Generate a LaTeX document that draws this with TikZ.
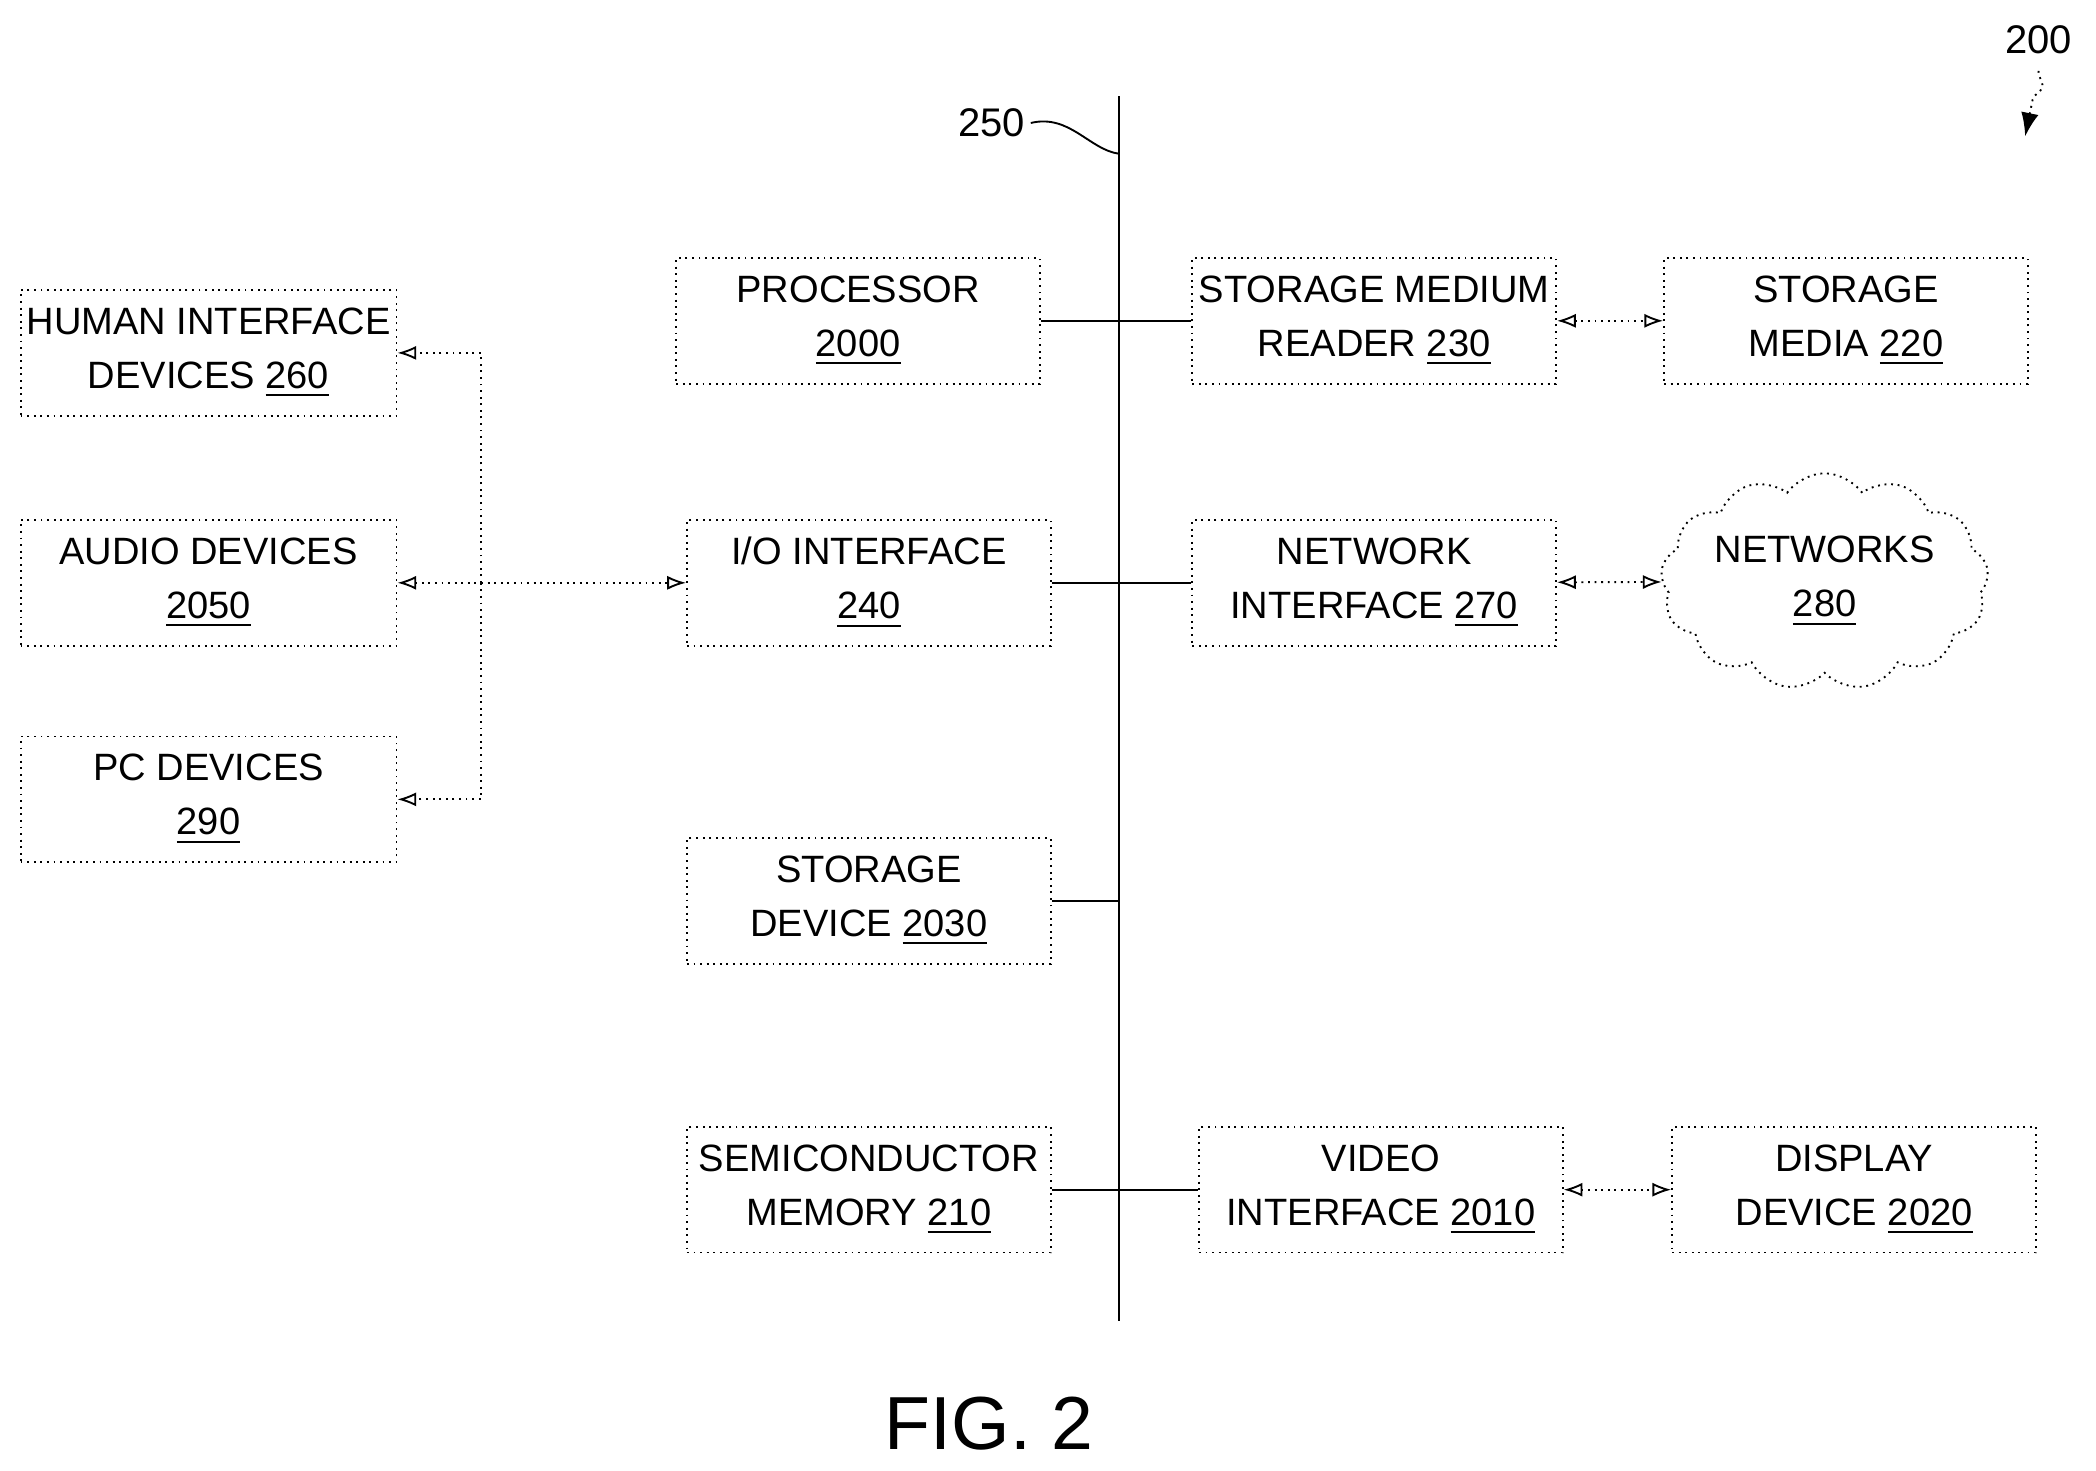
\documentclass[tikz,border=0pt]{standalone}
\usepackage{fontspec}
\setmainfont{Liberation Sans}
\usetikzlibrary{shapes.symbols,arrows.meta,decorations.pathmorphing}

\newcommand{\ul}[1]{\underline{#1}}

\begin{document}
\begin{tikzpicture}[x=0.01cm,y=-0.01cm,
    blk/.style={draw, densely dotted, minimum width=2.72cm, minimum height=0.94cm,
      align=center, font=\fontsize{8.1}{11.5}\selectfont, inner sep=1pt},
    bus/.style={thin},
    link/.style={densely dotted, {Latex[open,length=4pt]}-{Latex[open,length=4pt]}}]
    \useasboundingbox (0,0) rectangle (1568,1100);

    % bus
    \draw[bus] (837,72) coordinate (bustop) -- (837,988) coordinate (busbot);
    \node[font=\fontsize{8.5}{10}\selectfont, inner sep=1pt] (l250) at (742,92) {250};
    \draw (l250.east) .. controls (800,85) and (815,112) .. (837,115);
    \node[font=\fontsize{8.5}{10}\selectfont] (l200) at (1525,30) {200};
    \draw[densely dotted,-{Latex[length=5pt]},decorate,decoration={snake,amplitude=1.5pt,segment length=10pt,post length=5pt}]
      (l200.south) -- (1515,102);

    % blocks
    \node[blk] (proc) at (642,240) {PROCESSOR\\\ul{2000}};
    \node[blk] (smr) at (1028,240) {STORAGE MEDIUM\\READER \ul{230}};
    \node[blk] (smed) at (1381,240) {STORAGE\\MEDIA \ul{220}};
    \node[blk, minimum width=2.81cm] (hid) at (156,264) {HUMAN INTERFACE\\DEVICES \ul{260}};
    \node[blk, minimum width=2.81cm] (aud) at (156,436) {AUDIO DEVICES\\\ul{2050}};
    \node[blk, minimum width=2.81cm] (pc) at (156,598) {PC DEVICES\\\ul{290}};
    \node[blk] (io) at (650,436) {I/O INTERFACE\\\ul{240}};
    \node[blk] (ni) at (1028,436) {NETWORK\\INTERFACE \ul{270}};
    \node[cloud, draw, densely dotted, cloud puffs=13, cloud puff arc=110, aspect=1.7,
      minimum width=2.45cm, minimum height=1.5cm, inner sep=0pt, align=center,
      font=\fontsize{8.1}{11.5}\selectfont] (net) at (1365,435) {NETWORKS\\\ul{280}};
    \node[blk] (sdev) at (650,674) {STORAGE\\DEVICE \ul{2030}};
    \node[blk] (smem) at (650,890) {SEMICONDUCTOR\\MEMORY \ul{210}};
    \node[blk] (vid) at (1033,890) {VIDEO\\INTERFACE \ul{2010}};
    \node[blk] (disp) at (1387,890) {DISPLAY\\DEVICE \ul{2020}};

    % bus taps
    \foreach \n in {proc,io,sdev,smem}
      \draw[bus] (\n.east) -- (\n.east -| bustop);
    \foreach \n in {smr,ni,vid}
      \draw[bus] (\n.west) -- (\n.west -| bustop);

    % peripheral links
    \draw[link] (smr) -- (smed);
    \draw[link] (ni) -- (net);
    \draw[link] (vid) -- (disp);
    \coordinate (hub) at (360,436);
    \draw[link] (aud) -- (io);
    \draw[densely dotted,-{Latex[open,length=4pt]}] (hub) |- (hid.east);
    \draw[densely dotted,-{Latex[open,length=4pt]}] (hub) |- (pc.east);

    \node[font=\fontsize{16}{19}\selectfont] (fig) at (740,1065) {FIG. 2};
\end{tikzpicture}
\end{document}
